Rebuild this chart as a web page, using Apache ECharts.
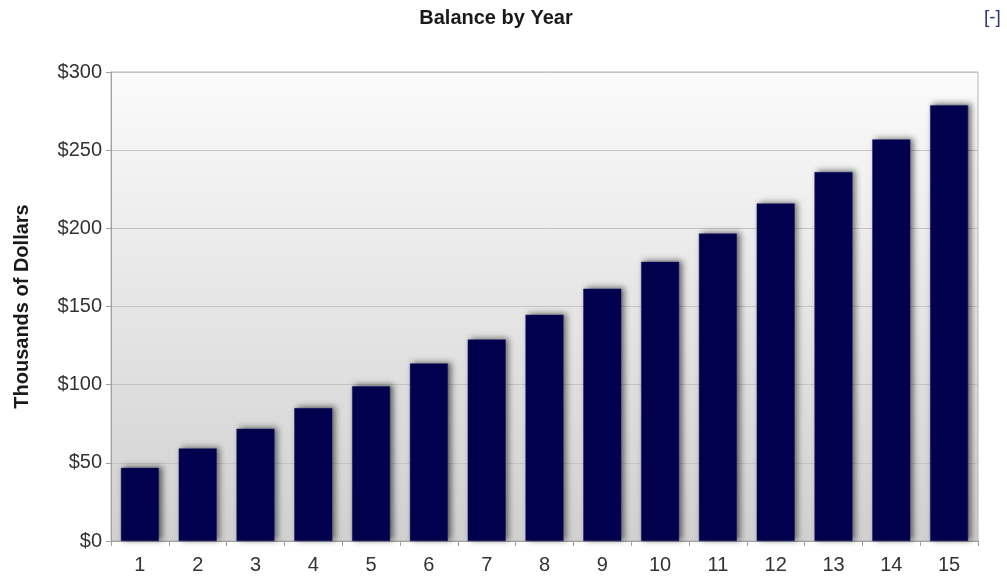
<!DOCTYPE html>
<html><head><meta charset="utf-8">
<script src="https://cdn.jsdelivr.net/npm/echarts@6/dist/echarts.min.js"></script>
<style>html,body{margin:0;padding:0;background:#fff}#c{width:1007px;height:580px}</style>
</head><body><div id="c"></div>
<script>
const years = ['1','2','3','4','5','6','7','8','9','10','11','12','13','14','15'];
const balance = [46.8, 59.2, 71.8, 85.0, 99.0, 113.6, 128.9, 144.7, 161.4, 178.6, 196.7, 215.9, 236.0, 256.9, 278.8];
const yTicks = [0, 50, 100, 150, 200, 250, 300];

const chart = echarts.init(document.getElementById('c'));
const FONT = 'Liberation Sans, Arial';
chart.setOption({
  animation: false,
  title: [{
    text: 'Balance by Year', left: 491, top: 3, textAlign: 'center',
    textStyle: {fontFamily: FONT, fontSize: 20, fontWeight: 'bold', color: '#1a1a1a'}
  }, {
    text: '[-]', left: 979, top: 3,
    textStyle: {fontFamily: FONT, fontSize: 19, fontWeight: 'normal', color: '#2a3a7a'}
  }],
  grid: {
    left: 111, right: 29, top: 72, bottom: 39, show: true,
    borderColor: '#b5b5b5', borderWidth: 1,
    backgroundColor: {type: 'linear', x: 0, y: 0, x2: 0, y2: 1,
      colorStops: [{offset: 0, color: '#fbfbfb'}, {offset: 1, color: '#d0d0d0'}]}
  },
  xAxis: {
    type: 'category', data: years,
    axisLine: {lineStyle: {color: '#a0a0a0', width: 1}},
    axisTick: {show: true, alignWithLabel: false, length: 5, lineStyle: {color: '#a0a0a0'}},
    axisLabel: {fontFamily: FONT, fontSize: 20, color: '#333', margin: 14}
  },
  yAxis: {
    type: 'value', min: 0, max: 300, interval: 50,
    name: 'Thousands of Dollars', nameLocation: 'middle', nameGap: 79, nameRotate: 90,
    nameTextStyle: {fontFamily: FONT, fontSize: 20, fontWeight: 'bold', color: '#1a1a1a'},
    axisLine: {show: true, lineStyle: {color: '#a0a0a0', width: 1}},
    axisTick: {show: true, length: 5, lineStyle: {color: '#a0a0a0'}},
    axisLabel: {fontFamily: FONT, fontSize: 20, color: '#333', margin: 9,
      formatter: v => yTicks.includes(v) ? '$' + v : ''},
    splitLine: {lineStyle: {color: '#c4c4c4', width: 1}}
  },
  series: [{
    type: 'bar', data: balance, barWidth: 38,
    itemStyle: {color: '#00004f', borderColor: '#1a1a66', borderWidth: 0.5,
      shadowBlur: 6, shadowColor: 'rgba(0,0,0,0.55)', shadowOffsetX: 3, shadowOffsetY: -1}
  }]
});
</script>
</body></html>
